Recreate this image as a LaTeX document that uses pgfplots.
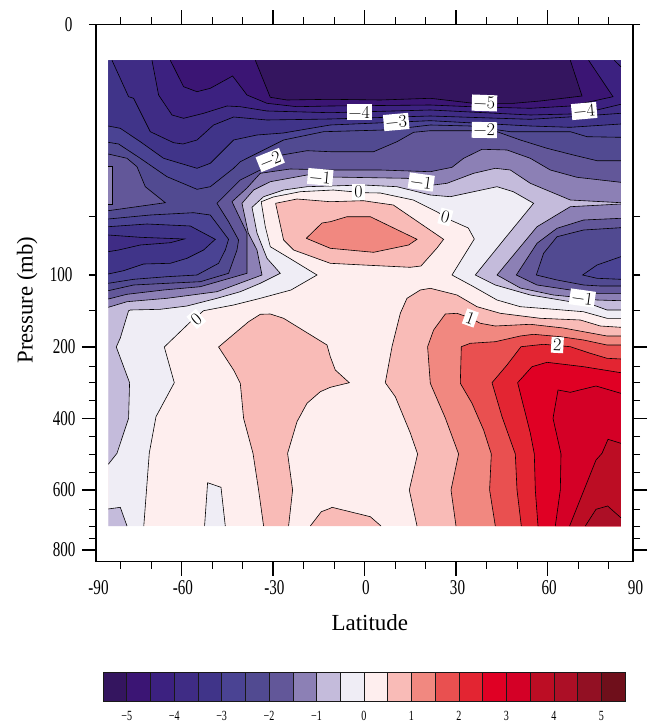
\documentclass[border=0pt]{standalone}
\usepackage{fontspec}
\setmainfont{Liberation Serif}
\newfontfamily\tickfont[FakeStretch=0.72]{Liberation Serif}
\usepackage{pgfplots}
\pgfplotsset{compat=1.18}
\definecolor{c0}{HTML}{34155F}
\definecolor{c1}{HTML}{3B1574}
\definecolor{c2}{HTML}{3C2180}
\definecolor{c3}{HTML}{3F2C85}
\definecolor{c4}{HTML}{403489}
\definecolor{c5}{HTML}{4A4393}
\definecolor{c6}{HTML}{514A91}
\definecolor{c7}{HTML}{625799}
\definecolor{c8}{HTML}{8C80B5}
\definecolor{c9}{HTML}{C4BBDB}
\definecolor{c10}{HTML}{EFEDF5}
\definecolor{c11}{HTML}{FEEEEE}
\definecolor{c12}{HTML}{F9BBB7}
\definecolor{c13}{HTML}{F18880}
\definecolor{c14}{HTML}{E95050}
\definecolor{c15}{HTML}{E32532}
\definecolor{c16}{HTML}{E00024}
\definecolor{c17}{HTML}{D40026}
\definecolor{c18}{HTML}{BC0D24}
\definecolor{c19}{HTML}{AC0F26}
\definecolor{c20}{HTML}{921023}
\definecolor{c21}{HTML}{6F0F1B}
\newcommand{\cont}[3]{%
  \addplot[fill=#1,draw=none,forget plot] coordinates {#2 #3} --cycle;
  \addplot[draw=black,line width=0.6pt,forget plot] coordinates {#2};}
\newcommand{\clab}[3]{\node[fill=white,inner sep=2pt,rotate=#2,font=\fontfamily{lmr}\fontsize{18}{18}\selectfont] at (axis cs:#1) {#3};}
\newcommand{\cbox}[3]{\addplot[fill=#1,draw=black!90,line width=0.6pt,forget plot] coordinates {(#2,0)(#3,0)(#3,1)(#2,1)} --cycle;}
\begin{document}
\begin{tikzpicture}[x=1pt,y=1pt]
\useasboundingbox (0,0) rectangle (648,723);
\begin{axis}[
  at={(96pt,161.3pt)},anchor=south west,scale only axis,width=537pt,height=537.2pt,
  xmin=-88,xmax=88,ymin=24.5,ymax=561.7,y dir=reverse,
  x filter/.expression={(x-364.2)/3.051},
  axis line style={line width=1.2pt},
  tick align=outside,xtick pos=both,ytick pos=both,
  major tick length=14pt,minor tick length=7pt,
  tick style={black,line width=1.1pt},minor tick style={line width=0.7pt},
  xtick={-60,-30,0,30,60},xticklabels={-60,-30,0,30,60},
  minor xtick={-80,-70,-50,-40,-20,-10,10,20,40,50,70,80},
  extra x ticks={-88,88},extra x tick labels={-90,90},extra x tick style={major tick length=0pt,xticklabel style={yshift=-14pt,xshift=1pt}},
  ytick={347,418.3,490,550},yticklabels={200,400,600,800},
  minor ytick={216.5,275,310.7,366,382.3,400.3,436.3,454.3,472,509.3,526,538.7},
  extra y ticks={24.5,275},extra y tick labels={0,100},extra y tick style={major tick length=7pt,yticklabel style={xshift=-10pt}},
  tick label style={font=\tickfont\fontsize{21}{21}\selectfont},
  xticklabel style={yshift=-1pt,xshift=1.5pt},
  yticklabel style={xshift=-3pt},
  xlabel={Latitude},ylabel={Pressure (mb)},
  every axis x label/.style={at={(axis description cs:0.51,-0.114)},anchor=center,font=\fontsize{23}{23}\selectfont},
  every axis y label/.style={at={(axis description cs:-0.128,0.487)},anchor=center,rotate=90,font=\fontsize{22.7}{23}\selectfont},
]
% base: 0 to 0.5
\addplot[fill=c11,draw=none,forget plot] coordinates {(108,60.3)(620.5,60.3)(620.5,526)(108,526)} --cycle;
% 0 contour
\cont{c10}{(143.5,526)(149,453)(155.7,416.7)(174,382.7)(164,347)(190,322)(203.3,310.7)(233.3,305)(260,298.3)(290.7,290)(316.7,275)(286.7,256.7)(270,246.7)(265,226.7)(261.7,206.7)(261,201.7)(273,197)(300,191.7)(333,190)(363,192.7)(380,193)(413,200)(437,212)(450,220)(468,228)(474,239)(451.7,275)(473.3,286.7)(496.7,300)(520,306.7)(550,309)(583,311.7)(606.7,318.3)(620.5,318.3)}{(620.5,60.3)(108,60.3)(108,526)}
\cont{c10}{(204.3,526)(207.3,482.7)(220.7,487.3)(225,526)}{}
% -0.5 contour
\cont{c9}{(108,464.3)(116.7,453.3)(128.3,418.3)(129.3,382.7)(116,347)(120,338)(128.3,310.7)(130,310)(160,309.3)(186.7,306)(216.7,298.3)(240,291.7)(260,283.3)(280,273.3)(266.7,258.3)(256.7,233)(251.7,207.3)(263.3,196.7)(283.3,190)(306.7,186.7)(363.3,185)(396.7,186.7)(430,195)(450,196.7)(496.7,186.7)(513,191.7)(533.3,203.3)(503.3,240)(475,275)(495,285)(530,295)(570,301.7)(593,305)(606.7,310)(620.5,310)}{(620.5,60.3)(108,60.3)}
\cont{c9}{(108,509)(120,507.3)(126.7,526)}{(108,526)}
% -1 contour
\cont{c8}{(108,307.3)(126.7,301.7)(166.7,298.3)(216.7,291.7)(261.7,275)(256.7,250)(248,233)(241.7,203.3)(253.3,190)(270,181.7)(306.7,175)(330,177)(406.7,178.3)(433.3,185)(446.7,183.3)(473.3,173.3)(495,168.3)(510,170)(530,183.3)(570,200)(620.5,202.7)}{(620.5,60.3)(108,60.3)}
\cont{c8}{(620.5,204)(570,206.7)(536.7,226.7)(496.7,275)(520,288)(553,295)(570,296.7)(596.7,300)(620.5,300.7)}{}
% -1.5 contour
\cont{c7}{(108,299)(126.7,294.3)(163.3,290)(200,286.7)(246.7,273.3)(246.7,250)(246.7,233)(231.7,201.7)(246.7,188)(260,173.3)(290,169)(333,170)(380,170)(430,171.7)(451.7,167.3)(463.3,158.3)(481.7,149.3)(506.7,150)(530,158.3)(550,170)(576.7,177.3)(620.5,182.3)}{(620.5,60.3)(108,60.3)}
\cont{c7}{(620.5,218.3)(583.3,220)(556.7,228.3)(536.7,243.3)(516,275)(536.7,285)(570,290)(596.7,293.3)(620.5,293.3)}{}
% -2 contour
\cont{c6}{(108,290.7)(133.3,285)(166.7,283.3)(200,281.7)(228.3,273.3)(236.7,250)(238.3,240)(228.3,221.7)(216.7,203.3)(233.3,186.7)(240,180)(260,170)(281.7,155)(306.7,150.7)(330,151.7)(373.3,151.7)(396.7,141.7)(413.3,132.3)(430,130.7)(470,130.7)(496.7,131.7)(520,140)(546.7,148.3)(573,155)(596.7,160.7)(620.5,160.7)}{(620.5,60.3)(108,60.3)}
\cont{c6}{(620.5,227.7)(583.3,230)(556.7,236.7)(543.3,253.3)(536,275)(556.7,280)(583.3,285)(600,286)(620.5,286)}{}
% left lobe
\cont{c7}{(108,154)(126.7,158.3)(136.7,166.7)(145,186.7)(165,202.7)(108,210.7)}{}
\cont{c8}{(108,166.7)(112.3,166.7)(112.3,204)(108,204)}{}
% -2.5 contour
\cont{c5}{(108,142.3)(118.3,144)(140,158.3)(166.7,176.7)(196.7,189.3)(210,186.7)(233.3,168.3)(240,161.7)(256.7,153.3)(283.3,140)(323.3,131.7)(383,130)(413,127)(430,125)(470,126)(510,131.7)(570,131.7)(586.7,136.7)(620.5,137.3)}{(620.5,60.3)(108,60.3)}
\cont{c5}{(620.5,256.7)(596.7,265)(582.3,275)(596.7,278.3)(620.5,279.3)}{}
\cont{c5}{(108,219)(150,215)(193.3,212.7)(210,215)(228.3,239.3)(225,250)(218.3,263.3)(196.7,275)(166.7,276.7)(133.3,279.3)(108,283.3)}{}
% -3 contour
\cont{c4}{(108,126)(120,128.3)(140,141.7)(163.3,158.3)(196.7,168.3)(210,163.3)(233.3,140)(256.7,135)(283,133)(330,125)(430,120.7)(530,126)(570,127.3)(620.5,124)}{(620.5,60.3)(108,60.3)}
\cont{c4}{(108,226.7)(146.7,224)(190,226)(215,239.3)(203.3,250)(186.7,258.3)(170,263.3)(143.3,264)(123.3,270.7)(108,274)}{}
% -3.5 contour
\cont{c3}{(111.7,60.3)(128.3,96.7)(133.3,98.3)(150,131.7)(173.3,142.7)(182.7,144)(196.7,140)(213.3,125)(233.3,117)(266.7,120)(330,119)(430,116)(530,119.3)(573,116.7)(620.5,113.3)}{(620.5,60.3)}
\cont{c3}{(108,235)(140,237.3)(184,239)(170,242.7)(140,245)(118.3,250)(108,251.7)}{}
% -4 contour
\cont{c2}{(151.7,60.3)(158.3,95)(171.7,115)(183.3,118.3)(203.3,113.3)(226.7,106)(240,106.7)(266.7,111)(330,112.7)(430,110)(530,115)(570,114)(596.7,110)(620.5,104.3)}{(620.5,66.7)(614,60.3)}
\addplot[draw=black,line width=0.6pt,forget plot] coordinates {(620.5,66.7)(614,60.3)};
% -4.5 contour
\cont{c1}{(170,60.3)(183.3,86.7)(196.7,91.7)(210,88.3)(232.3,76)(246.7,95)(266.7,103.3)(296.7,106.7)(330,106)(430,105)(470,106.7)(530,108.3)(570,106)(612.7,96.7)(588.3,60.3)}{}
% -5 contour
\cont{c0}{(255,60.3)(270,97.3)(286.7,100)(330,99.3)(380,100)(430,98.3)(473.3,103.3)(513.3,103.3)(540,101)(581.7,96)(570,60.3)}{}
% 0.5 patches
\cont{c12}{(275.3,203.3)(296.7,199)(330,201.7)(363,200.7)(393,205)(443.3,239.3)(436.7,248)(420.7,266)(410,267.3)(363,265)(330,263.3)(293.3,250)(283.3,240)(275.3,203.3)}{}
\cont{c12}{(263.3,526)(258.3,490)(252.7,453.3)(243.3,418.3)(240,383.3)(233.3,370)(218.3,347)(248.3,321.7)(260,314.3)(270,314)(283.3,318.3)(326.7,345)(330,356.7)(335,370)(349,382.7)(330,387.3)(320,391.7)(306.7,403.3)(296.7,421.7)(287.3,453.3)(292.3,490)(288.3,526)}{}
\cont{c12}{(310,526)(321,511.7)(330,508.3)(331.7,507.3)(370,516.7)(380.7,526)}{}
\cont{c12}{(416.7,526)(409,490)(417.3,454)(410,433)(395,396.7)(385,382.7)(391.7,346.7)(400,313.3)(406.7,298.3)(420,290)(430,288.3)(456.7,295)(476.7,306.7)(500,313.3)(540,318.3)(580,320)(600,326)(620.5,327.3)}{(620.5,526)}
% 1 contours
\cont{c13}{(306,238.3)(321.7,223)(330,221.7)(346.7,216.7)(370,216.7)(416.7,239.3)(408.3,245)(373.3,252.3)(330,248.3)(306,238.3)}{}
\cont{c13}{(455.7,526)(450.7,490)(458.3,454)(445,418)(430,383.3)(427.3,346.7)(433.3,330)(445,314)(456.7,313.3)(470,318)(480,323.3)(495,326)(530,324.3)(563,328)(606.7,336)(620.5,336)}{(620.5,526)}
% 1.5
\cont{c14}{(495,526)(489.3,490)(491,454)(483.3,430)(471.7,403.3)(460,383.3)(461,346.7)(470,343.3)(495,341.7)(520,336)(533.3,334.3)(560,336.7)(583.3,340)(606.7,345)(620.5,345)}{(620.5,526)}
% 2
\cont{c15}{(521,526)(516.7,490)(515,454)(501.7,416.7)(491.7,382.7)(506.7,365)(520.7,346.7)(543.3,344.3)(570,346.7)(590,353.3)(606.7,358.3)(620.5,359)}{(620.5,526)}
% 2.5
\cont{c16}{(537.7,526)(535,490)(534,454)(530,433)(517.3,382.7)(531.7,366.7)(546.7,362.3)(583.3,366.7)(620.5,372.7)}{(620.5,526)}
% 3
\cont{c17}{(555,526)(560,490)(560.7,454)(552.7,418.3)(557.7,390)(570,392.3)(595.7,386)(620.5,393.3)}{(620.5,526)}
% 3.5
\cont{c18}{(569.3,526)(595.7,460)(601.7,453.3)(607.7,439.3)(620.5,443.3)}{(620.5,526)}
% 4
\cont{c19}{(585,526)(595.7,509.3)(607.3,506)(620.5,517.7)}{(620.5,526)}
% labels
\clab{-1.7,112}{0}{−4}
\clab{10.4,122}{5}{−3}
\clab{39.3,103}{-2}{−5}
\clab{72,111}{5}{−4}
\clab{39.3,130}{-1}{−2}
\clab{-30.9,160}{22}{−2}
\clab{-14.5,177}{-5}{−1}
\clab{-2,192}{0}{0}
\clab{18.6,182}{-8}{−1}
\clab{26.5,217}{-15}{0}
\clab{71.4,298}{-8}{−1}
\clab{34.7,318}{-20}{1}
\clab{63.2,345}{-3}{2}
\clab{-55.1,319}{40}{0}
\end{axis}
\begin{axis}[
  at={(103pt,22pt)},anchor=south west,scale only axis,width=522pt,height=29pt,
  xmin=-5.5,xmax=5.5,ymin=0,ymax=1,
  ytick=\empty,xtick={-5,-4,-3,-2,-1,0,1,2,3,4,5},
  xticklabels={−5,−4,−3,−2,−1,0,1,2,3,4,5},
  major tick length=0pt,
  tick label style={font=\tickfont\fontsize{14}{14}\selectfont},
  xticklabel style={yshift=-7pt},
  axis line style={draw=black!90,line width=0.7pt},
]
\cbox{c0}{-5.5}{-5}
\cbox{c1}{-5}{-4.5}
\cbox{c2}{-4.5}{-4}
\cbox{c3}{-4}{-3.5}
\cbox{c4}{-3.5}{-3}
\cbox{c5}{-3}{-2.5}
\cbox{c6}{-2.5}{-2}
\cbox{c7}{-2}{-1.5}
\cbox{c8}{-1.5}{-1}
\cbox{c9}{-1}{-0.5}
\cbox{c10}{-0.5}{0}
\cbox{c11}{0}{0.5}
\cbox{c12}{0.5}{1}
\cbox{c13}{1}{1.5}
\cbox{c14}{1.5}{2}
\cbox{c15}{2}{2.5}
\cbox{c16}{2.5}{3}
\cbox{c17}{3}{3.5}
\cbox{c18}{3.5}{4}
\cbox{c19}{4}{4.5}
\cbox{c20}{4.5}{5}
\cbox{c21}{5}{5.5}
\end{axis}
\end{tikzpicture}
\end{document}
